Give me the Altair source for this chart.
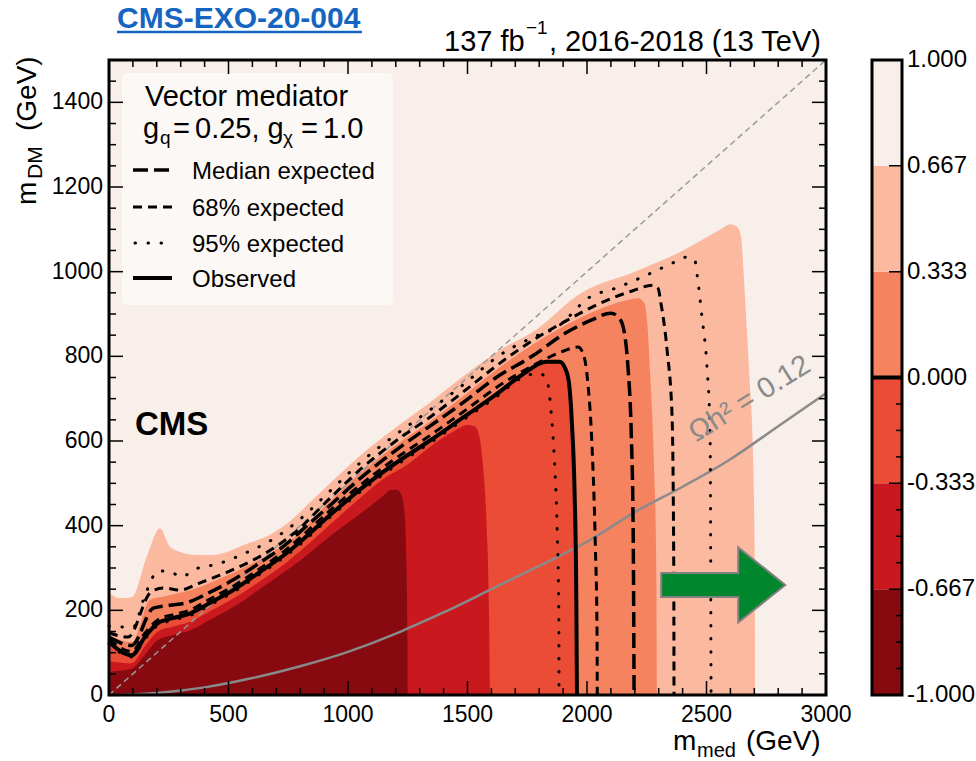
import altair as alt
import pandas as pd

FONT = "Liberation Sans"
W, H = 717, 635            # plot area in px
X_MAX, Y_MAX = 3000, 1500  # GeV

# ---------------------------------------------------------------------------
# Observed log10(mu) map: upper edge of the region lying below each level
# ---------------------------------------------------------------------------
LT_P067_X = [0, 46, 96, 160, 213, 255, 297, 368, 435, 493, 561, 661, 745, 850, 925, 1060, 1200,
             1340, 1480, 1636, 1774, 1983, 2192, 2402, 2560, 2600, 2630, 2645, 2655, 2665, 2680,
             2695, 2702, 2704]
LT_P067_Y = [241, 229, 231, 330, 394, 350, 338, 331, 331, 338, 354, 375, 405, 460, 500, 570, 632,
             690, 752, 815, 858, 952, 998, 1050, 1100, 1112, 1105, 1080, 1000, 900, 750,
             555, 300, 0]

LT_P033_X = [0, 95, 172, 250, 381, 464, 561, 661, 770, 925, 1060, 1200, 1340, 1480, 1636, 1774,
             1916, 2054, 2150, 2215, 2240, 2252, 2265, 2280, 2290, 2293]
LT_P033_Y = [142, 125, 225, 235, 255, 275, 300, 330, 370, 458, 528, 590, 645, 705, 775, 828,
             875, 912, 930, 937, 925, 880, 750, 550, 300, 0]

LT_M033_X = [0, 95, 150, 205, 270, 340, 420, 520, 630, 745, 800, 925, 1060, 1134, 1250, 1343,
             1439, 1500, 1530, 1550, 1565, 1580, 1590, 1594]
LT_M033_Y = [80, 75, 115, 150, 162, 173, 197, 228, 268, 314, 340, 403, 470, 505, 545, 586,
             622, 638, 635, 610, 540, 400, 200, 0]

LT_M067_X = [0, 95, 150, 205, 270, 340, 420, 520, 630, 745, 800, 925, 1079, 1150, 1180, 1205,
             1225, 1238, 1245, 1249, 1250]
LT_M067_Y = [55, 62, 95, 130, 142, 153, 177, 208, 250, 295, 318, 375, 440, 472, 485, 485,
             470, 420, 300, 120, 0]

# ---------------------------------------------------------------------------
# Exclusion contours (mu = 1)
# ---------------------------------------------------------------------------
OBS_X = [0, 95, 150, 205, 270, 340, 420, 520, 630, 745, 800, 925, 1060, 1200, 1340, 1480, 1620,
         1730, 1830, 1885, 1910, 1925, 1937, 1948, 1955, 1958]
OBS_Y = [125, 94, 137, 170, 182, 193, 217, 248, 290, 336, 362, 425, 490, 548, 600, 655, 710,
         757, 787, 787, 770, 735, 640, 480, 250, 0]

EXP_X = [0, 95, 185, 255, 325, 420, 520, 630, 745, 800, 925, 1060, 1200, 1340, 1480, 1620, 1770,
         1910, 2020, 2100, 2138, 2158, 2172, 2185, 2193, 2197]
EXP_Y = [137, 117, 205, 212, 218, 242, 272, 312, 358, 386, 448, 516, 578, 634, 690, 750, 800,
         855, 886, 902, 888, 850, 770, 620, 400, 0]

EXP68_UP_X = [0, 80, 172, 226, 297, 381, 464, 561, 661, 770, 925, 1060, 1200, 1340, 1480, 1636,
              1774, 1916, 2054, 2192, 2275, 2298, 2308, 2335, 2356, 2363, 2364]
EXP68_UP_Y = [147, 137, 241, 253, 248, 265, 283, 307, 337, 380, 465, 537, 600, 655, 715, 784,
              838, 885, 925, 955, 968, 960, 930, 815, 657, 300, 0]

EXP68_DN_X = [0, 95, 150, 205, 270, 340, 420, 520, 630, 745, 800, 925, 1060, 1200, 1340, 1480,
              1636, 1780, 1900, 1962, 1985, 2003, 2020, 2035, 2042, 2043]
EXP68_DN_Y = [131, 103, 146, 178, 190, 201, 226, 257, 298, 345, 372, 436, 500, 559, 612, 668,
              732, 780, 812, 822, 805, 740, 600, 350, 150, 0]

EXP95_UP_X = [0, 100, 151, 206, 255, 305, 352, 464, 577, 686, 799, 925, 1060, 1200, 1340, 1480,
              1636, 1774, 1874, 2012, 2125, 2222, 2318, 2368, 2422, 2452, 2462, 2481, 2502, 2515,
              2519]
EXP95_UP_Y = [163, 160, 236, 293, 291, 279, 295, 311, 337, 368, 415, 482, 553, 615, 672, 732,
              803, 845, 869, 940, 962, 985, 1010, 1023, 1035, 1025, 987, 893, 775, 619,
              0]

EXP95_DN_X = [0, 95, 150, 205, 270, 340, 420, 520, 630, 745, 800, 925, 1060, 1200, 1340, 1480,
              1620, 1730, 1800, 1832, 1848, 1862, 1875, 1882, 1883]
EXP95_DN_Y = [121, 90, 132, 165, 177, 188, 212, 243, 285, 331, 356, 420, 484, 542, 594, 649,
              704, 750, 760, 744, 680, 571, 390, 200, 0]

# relic density Omega h^2 = 0.12 and the m_DM = m_med / 2 line
RELIC_X = [0, 200, 400, 600, 800, 1000, 1200, 1300, 1400, 1600, 1800, 2000, 2200, 2400, 2600,
           2800, 3000]
RELIC_Y = [0, 5, 18, 40, 68, 102, 145, 170, 195, 250, 305, 362, 432, 492, 557, 635, 713]
DIAG_X = [0, 3000]
DIAG_Y = [0, 1500]

ARROW_X = [2570]
ARROW_Y = [260]

# colour scale of log10(mu)
BAND_LO = [-1.0, -0.667, -0.333, 0.0, 0.333, 0.667]
BAND_HI = [-0.667, -0.333, 0.0, 0.333, 0.667, 1.0]
BAND_COLORS = ["#870a10", "#c9181e", "#ea4c35", "#f6835f", "#fbb9a0", "#f8efea"]
CB_LABEL_POS = [-1.0, -0.667, -0.333, 0.0, 0.333, 0.667, 1.0]
CB_LABELS = ["-1.000", "-0.667", "-0.333", "0.000", "0.333", "0.667", "1.000"]
CB_MINOR = [-1 + k / 12 for k in range(1, 12) if k % 4]
CB_MAJOR = [-0.667, -0.333, 0.333, 0.667]

X_MAJOR = [0, 500, 1000, 1500, 2000, 2500, 3000]
X_MINOR = [v for v in range(100, 3000, 100) if v % 500]
Y_MAJOR = [0, 200, 400, 600, 800, 1000, 1200, 1400]
Y_MINOR = [v for v in range(50, 1500, 50) if v % 200]

XS = alt.Scale(domain=[0, X_MAX], nice=False)
YS = alt.Scale(domain=[0, Y_MAX], nice=False)
CS = alt.Scale(domain=[-1, 1], nice=False)
ONE = pd.DataFrame({"k": [0]})


def curve_df(xs, ys):
    return pd.DataFrame({"x": xs, "y": ys, "i": list(range(len(xs)))})


def region(xs, ys, color):
    return alt.Chart(curve_df(xs, ys)).mark_area(
        color=color, interpolate="monotone", opacity=1
    ).encode(
        x=alt.X("x:Q", scale=XS, axis=None),
        y=alt.Y("y:Q", scale=YS, axis=None, stack=False),
    )


def contour(xs, ys, width, color="black", dash=None, cap="butt"):
    kw = dict(color=color, strokeWidth=width, interpolate="monotone", strokeCap=cap)
    if dash:
        kw["strokeDash"] = dash
    return alt.Chart(curve_df(xs, ys)).mark_line(**kw).encode(
        x=alt.X("x:Q", scale=XS, axis=None),
        y=alt.Y("y:Q", scale=YS, axis=None),
        order=alt.Order("i:Q"),
    )


def text(t, x, y, size, align="left", baseline="alphabetic", **kw):
    return alt.Chart(ONE).mark_text(
        text=t, fontSize=size, font=FONT, align=align, baseline=baseline, **kw
    ).encode(x=alt.value(x), y=alt.value(y))


def box(x0, x1, y0, y1, **kw):
    return alt.Chart(ONE).mark_rect(**kw).encode(
        x=alt.value(x0), x2=alt.value(x1), y=alt.value(y0), y2=alt.value(y1))


def hline(x0, x1, y, width, dash=None, cap="butt", color="black"):
    kw = dict(color=color, strokeWidth=width, strokeCap=cap)
    if dash:
        kw["strokeDash"] = dash
    return alt.Chart(ONE).mark_rule(**kw).encode(
        x=alt.value(x0), x2=alt.value(x1), y=alt.value(y))


def xticks(vals, length):
    d = pd.DataFrame({"v": vals})
    enc = alt.X("v:Q", scale=XS, axis=None)
    bottom = alt.Chart(d).mark_rule(color="black", strokeWidth=1.5).encode(
        x=enc, y=alt.value(H), y2=alt.value(H - length))
    top = alt.Chart(d).mark_rule(color="black", strokeWidth=1.5).encode(
        x=enc, y=alt.value(0), y2=alt.value(length))
    return [bottom, top]


def yticks(vals, length):
    d = pd.DataFrame({"v": vals})
    enc = alt.Y("v:Q", scale=YS, axis=None)
    left = alt.Chart(d).mark_rule(color="black", strokeWidth=1.5).encode(
        y=enc, x=alt.value(0), x2=alt.value(length))
    right = alt.Chart(d).mark_rule(color="black", strokeWidth=1.5).encode(
        y=enc, x=alt.value(W), x2=alt.value(W - length))
    return [left, right]


layers = [
    region(LT_P067_X, LT_P067_Y, BAND_COLORS[4]),
    region(LT_P033_X, LT_P033_Y, BAND_COLORS[3]),
    region(OBS_X, OBS_Y, BAND_COLORS[2]),
    region(LT_M033_X, LT_M033_Y, BAND_COLORS[1]),
    region(LT_M067_X, LT_M067_Y, BAND_COLORS[0]),
    contour(DIAG_X, DIAG_Y, 1.5, color="#9a9a9a", dash=[6, 4]),
    contour(RELIC_X, RELIC_Y, 2.5, color="#8a8a8a"),
    contour(EXP95_UP_X, EXP95_UP_Y, 3, dash=[0.5, 12.5], cap="round"),
    contour(EXP95_DN_X, EXP95_DN_Y, 3, dash=[0.5, 12.5], cap="round"),
    contour(EXP68_UP_X, EXP68_UP_Y, 3, dash=[9, 6]),
    contour(EXP68_DN_X, EXP68_DN_Y, 3, dash=[9, 6]),
    contour(EXP_X, EXP_Y, 3.5, dash=[15, 6]),
    contour(OBS_X, OBS_Y, 4),
    # arrow pointing towards the allowed region
    alt.Chart(pd.DataFrame({"x": ARROW_X, "y": ARROW_Y})).mark_point(
        shape="M-1,-0.194 L0.242,-0.194 L0.242,-0.605 L1,0 L0.242,0.605 L0.242,0.194 L-1,0.194 Z",
        size=15376, filled=True, color="#00862c", stroke="#808080", strokeWidth=2, opacity=1,
    ).encode(x=alt.X("x:Q", scale=XS, axis=None), y=alt.Y("y:Q", scale=YS, axis=None)),
    alt.Chart(pd.DataFrame({"x": [2680], "y": [700]})).mark_text(
        text="\u03a9h\u00b2 = 0.12", fontSize=29, font=FONT, color="#8a8a8a", angle=328,
        align="center", baseline="middle",
    ).encode(x=alt.X("x:Q", scale=XS, axis=None), y=alt.Y("y:Q", scale=YS, axis=None)),
    # legend
    box(13, 284, 13, 245, color="#fcf8f6", cornerRadius=6),
    text("Vector mediator", 36, 46, 29),
    text("g", 34, 78, 29),
    text("q", 51, 84, 19),
    text("=", 64, 78, 29),
    text("0.25, g", 86, 78, 29),
    text("\u03c7", 174, 84, 19),
    text("=", 192, 78, 29),
    text("1.0", 214, 78, 29),
    hline(24, 63, 110, 3.5, dash=[15, 6]),
    hline(24, 63, 147, 3, dash=[9, 6]),
    hline(26, 63, 183, 3, dash=[0.5, 12.5], cap="round"),
    hline(24, 63, 218, 4),
    text("Median expected", 83, 119, 24),
    text("68% expected", 83, 156, 24),
    text("95% expected", 83, 192, 24),
    text("Observed", 83, 227, 24),
    text("CMS", 26, 375, 33, fontWeight="bold"),
    # frame and ticks
    box(0, W, 0, H, fillOpacity=0, stroke="black", strokeWidth=3),
]
layers += xticks(X_MAJOR, 14) + xticks(X_MINOR, 7) + yticks(Y_MAJOR, 14) + yticks(Y_MINOR, 7)

layers += [
    alt.Chart(pd.DataFrame({"v": X_MAJOR, "t": [str(v) for v in X_MAJOR]})).mark_text(
        fontSize=23, font=FONT, align="center", baseline="alphabetic"
    ).encode(x=alt.X("v:Q", scale=XS, axis=None), y=alt.value(662), text="t:N"),
    alt.Chart(pd.DataFrame({"v": Y_MAJOR, "t": [str(v) for v in Y_MAJOR]})).mark_text(
        fontSize=23, font=FONT, align="right", baseline="middle"
    ).encode(y=alt.Y("v:Q", scale=YS, axis=None), x=alt.value(-6), text="t:N"),
    # axis titles
    text("m", 564, 690, 28),
    text("med", 588, 697, 20),
    text("(GeV)", 637, 690, 28),
    text("m", -73, 145, 28, angle=270),
    text("DM", -67, 119, 21, angle=270),
    text("(GeV)", -73, 71, 28, angle=270),
    # header
    text("CMS-EXO-20-004", 8, -32, 30, fontWeight="bold", color="#1565c0"),
    hline(8, 253, -28, 2.5, color="#1565c0"),
    text("137 fb", 335, -9, 29),
    text("\u22121", 417, -26, 19),
    text(", 2016-2018 (13 TeV)", 440, -9, 29),
]

main = alt.layer(*layers)

# colour bar on its own scale
cb_x0, cb_x1 = 763, 793
bands = alt.Chart(pd.DataFrame({"lo": BAND_LO, "hi": BAND_HI, "c": BAND_COLORS})).mark_rect().encode(
    x=alt.value(cb_x0), x2=alt.value(cb_x1),
    y=alt.Y("lo:Q", scale=CS, axis=None), y2="hi:Q",
    color=alt.Color("c:N", scale=None),
)
cb_major = alt.Chart(pd.DataFrame({"v": CB_MAJOR})).mark_rule(color="black", strokeWidth=1.5).encode(
    y=alt.Y("v:Q", scale=CS, axis=None), x=alt.value(cb_x1 - 13), x2=alt.value(cb_x1))
cb_minor = alt.Chart(pd.DataFrame({"v": CB_MINOR})).mark_rule(color="black", strokeWidth=1.5).encode(
    y=alt.Y("v:Q", scale=CS, axis=None), x=alt.value(cb_x1 - 6), x2=alt.value(cb_x1))
cb_zero = alt.Chart(pd.DataFrame({"v": [0.0]})).mark_rule(color="black", strokeWidth=4).encode(
    y=alt.Y("v:Q", scale=CS, axis=None), x=alt.value(cb_x0), x2=alt.value(cb_x1))
cb_labels = alt.Chart(pd.DataFrame({"v": CB_LABEL_POS, "t": CB_LABELS})).mark_text(
    fontSize=24, font=FONT, align="left", baseline="middle"
).encode(y=alt.Y("v:Q", scale=CS, axis=None), x=alt.value(cb_x1 + 5), text="t:N")
cb_frame = box(cb_x0, cb_x1, 0, H, fillOpacity=0, stroke="black", strokeWidth=3)

cbar = alt.layer(bands, cb_major, cb_minor, cb_zero, cb_labels, cb_frame)

chart = alt.layer(main, cbar).resolve_scale(y="independent").properties(
    width=W, height=H,
    autosize=alt.AutoSizeParams(type="none"),
    padding={"left": 109, "top": 60, "right": 150, "bottom": 66},
    background="white",
).configure_view(strokeWidth=0, fill=BAND_COLORS[5])

chart.save("out.html", embed_options={"renderer": "svg", "actions": False})
